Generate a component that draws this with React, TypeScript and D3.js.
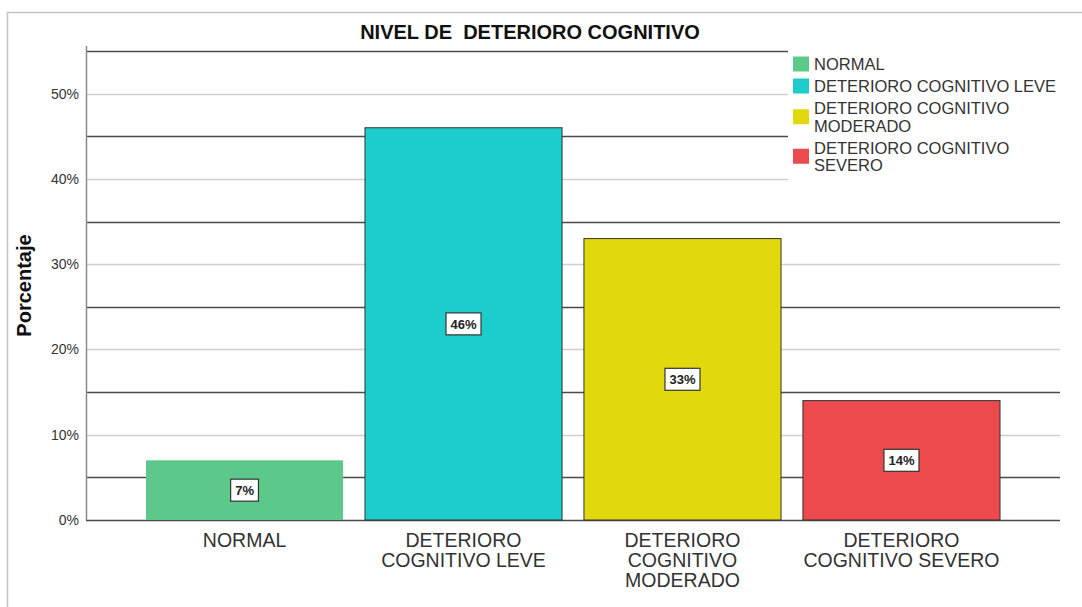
import { useRef, useEffect } from "react";
import * as d3 from "d3";

// datos
const categorias = ["NORMAL", "DETERIORO COGNITIVO LEVE", "DETERIORO COGNITIVO MODERADO", "DETERIORO COGNITIVO SEVERO"];
const porcentajes = [7, 46, 33, 14];
const colores = ["#5cc98a", "#1dcccc", "#e2d80e", "#ec4a4c"];
const ticksY = [0, 10, 20, 30, 40, 50];
const lineasOscuras = [0, 5, 15, 25, 35, 45, 55];
const titulo = "NIVEL DE  DETERIORO COGNITIVO";
const tituloY = "Porcentaje";

const FONT = "'Liberation Sans', Arial, sans-serif";

// parte el texto en líneas que quepan en maxWidth
const wrapLines = (text: string, maxWidth: number, measure: (s: string) => number) => {
  const words = text.split(" ");
  const lines: string[] = [];
  let current = "";
  words.forEach((w) => {
    const test = current ? current + " " + w : w;
    if (current && measure(test) > maxWidth) {
      lines.push(current);
      current = w;
    } else {
      current = test;
    }
  });
  if (current) lines.push(current);
  return lines;
};

const Chart = () => {
  const svgRef = useRef<SVGSVGElement>(null);

  useEffect(() => {
    draw();
  }, []);

  const draw = () => {
    const width = 1082;
    const height = 607;
    const margin = { top: 51, left: 86, bottom: 87, right: 22 };

    const svg = d3.select(svgRef.current).attr("width", width).attr("height", height).style("font-family", FONT);
    svg.selectAll("*").remove();

    // medidor de texto
    const meter = svg.append("text").attr("visibility", "hidden");
    const measure = (size: number, weight = "normal") => (s: string) => {
      meter.attr("font-size", size).attr("font-weight", weight).text(s);
      return (meter.node() as SVGTextElement).getComputedTextLength();
    };

    // marco
    svg.append("rect").attr("width", width).attr("height", height).attr("fill", "#fff");
    svg.append("path")
      .attr("d", `M7.5,${height + 2} V12.5 H${width + 2}`)
      .attr("fill", "none")
      .attr("stroke", "#c4c4c4")
      .attr("stroke-width", 1.5);

    const x = d3.scaleBand()
      .domain(categorias)
      .range([margin.left, width - margin.right])
      .paddingInner(0.1)
      .paddingOuter(0.274);

    const y = d3.scaleLinear()
      .domain([0, 55])
      .range([height - margin.bottom, margin.top]);

    // líneas de fondo claras (10%, 20%...)
    svg.append("g")
      .selectAll("line")
      .data(ticksY.filter((d) => d > 0))
      .join("line")
      .attr("x1", margin.left)
      .attr("x2", width - margin.right)
      .attr("y1", (d) => Math.round(y(d)) + 0.5)
      .attr("y2", (d) => Math.round(y(d)) + 0.5)
      .attr("stroke", "#d0d0d0")
      .attr("stroke-width", 1.5);

    // líneas oscuras (5%, 15%...)
    svg.append("g")
      .selectAll("line")
      .data(lineasOscuras)
      .join("line")
      .attr("x1", margin.left)
      .attr("x2", width - margin.right)
      .attr("y1", (d) => Math.round(y(d)) + 0.5)
      .attr("y2", (d) => Math.round(y(d)) + 0.5)
      .attr("stroke", "#4a4a4a")
      .attr("stroke-width", 1.5);

    // eje vertical
    svg.append("line")
      .attr("x1", margin.left + 0.5)
      .attr("x2", margin.left + 0.5)
      .attr("y1", margin.top - 5)
      .attr("y2", y(0))
      .attr("stroke", "#8a8a8a")
      .attr("stroke-width", 1.5);

    // barras
    svg.append("g")
      .selectAll("rect")
      .data(porcentajes)
      .join("rect")
      .attr("x", (d, i) => x(categorias[i])!)
      .attr("y", (d) => y(d))
      .attr("width", x.bandwidth())
      .attr("height", (d) => y(0) - y(d))
      .attr("fill", (d, i) => colores[i])
      .attr("stroke", (d, i) => (i === 0 ? "none" : "#333"))
      .attr("stroke-width", 1);

    // etiquetas de valor
    const etiquetas = svg.append("g")
      .selectAll("g")
      .data(porcentajes)
      .join("g")
      .attr("transform", (d, i) => `translate(${x(categorias[i])! + x.bandwidth() / 2}, ${(y(d) + y(0)) / 2})`);

    etiquetas.each(function (d) {
      const g = d3.select(this);
      const txt = d + "%";
      const w = measure(13, "bold")(txt) + 9;
      g.append("rect")
        .attr("x", -w / 2)
        .attr("y", -11)
        .attr("width", w)
        .attr("height", 22)
        .attr("fill", "#fff")
        .attr("stroke", "#333")
        .attr("stroke-width", 1.2);
      g.append("text")
        .attr("text-anchor", "middle")
        .attr("y", 5)
        .attr("font-size", 13)
        .attr("font-weight", "bold")
        .attr("fill", "#222")
        .text(txt);
    });

    // etiquetas eje y
    svg.append("g")
      .selectAll("text")
      .data(ticksY)
      .join("text")
      .attr("x", 79)
      .attr("y", (d) => y(d) + 5)
      .attr("text-anchor", "end")
      .attr("font-size", 14)
      .attr("fill", "#333")
      .text((d) => d + "%");

    // etiquetas eje x
    const medirX = measure(19.5);
    categorias.forEach((c) => {
      const lines = wrapLines(c, x.bandwidth() + 4, medirX);
      svg.append("text")
        .attr("text-anchor", "middle")
        .attr("font-size", 19.5)
        .attr("fill", "#333")
        .selectAll("tspan")
        .data(lines)
        .join("tspan")
        .attr("x", x(c)! + x.bandwidth() / 2)
        .attr("y", (d, i) => y(0) + 27 + i * 20)
        .text((d) => d);
    });

    // título eje y
    svg.append("text")
      .attr("transform", `translate(31, ${(y(0) + margin.top) / 2}) rotate(-90)`)
      .attr("text-anchor", "middle")
      .attr("font-size", 20)
      .attr("font-weight", "bold")
      .attr("fill", "#111")
      .text(tituloY);

    // título (con el doble espacio original)
    svg.append("text")
      .attr("x", 530)
      .attr("y", 39)
      .attr("text-anchor", "middle")
      .attr("font-size", 20)
      .attr("font-weight", "bold")
      .attr("fill", "#111")
      .style("white-space", "pre")
      .text(titulo);

    // leyenda
    const legend = svg.append("g");
    legend.append("rect")
      .attr("x", 788)
      .attr("y", 45)
      .attr("width", width - margin.right - 788 + 2)
      .attr("height", 140)
      .attr("fill", "#fff");

    const medirL = measure(16.5);
    let cy = 64;
    categorias.forEach((c, i) => {
      const lines = wrapLines(c, 250, medirL);
      const lh = 17.5;
      const centro = cy + ((lines.length - 1) * lh) / 2;
      legend.append("rect")
        .attr("x", 793)
        .attr("y", centro - 7.5)
        .attr("width", 16)
        .attr("height", 15)
        .attr("fill", colores[i]);
      legend.append("text")
        .attr("font-size", 16.5)
        .attr("fill", "#333")
        .selectAll("tspan")
        .data(lines)
        .join("tspan")
        .attr("x", 814)
        .attr("y", (d, j) => cy + j * lh + 6)
        .text((d) => d);
      cy += (lines.length - 1) * lh + 22;
    });

    meter.remove();
  };

  return <svg ref={svgRef} style={{ position: "absolute", left: 0, top: 0 }}></svg>;
};

export default function App() {
  return <Chart />;
}
